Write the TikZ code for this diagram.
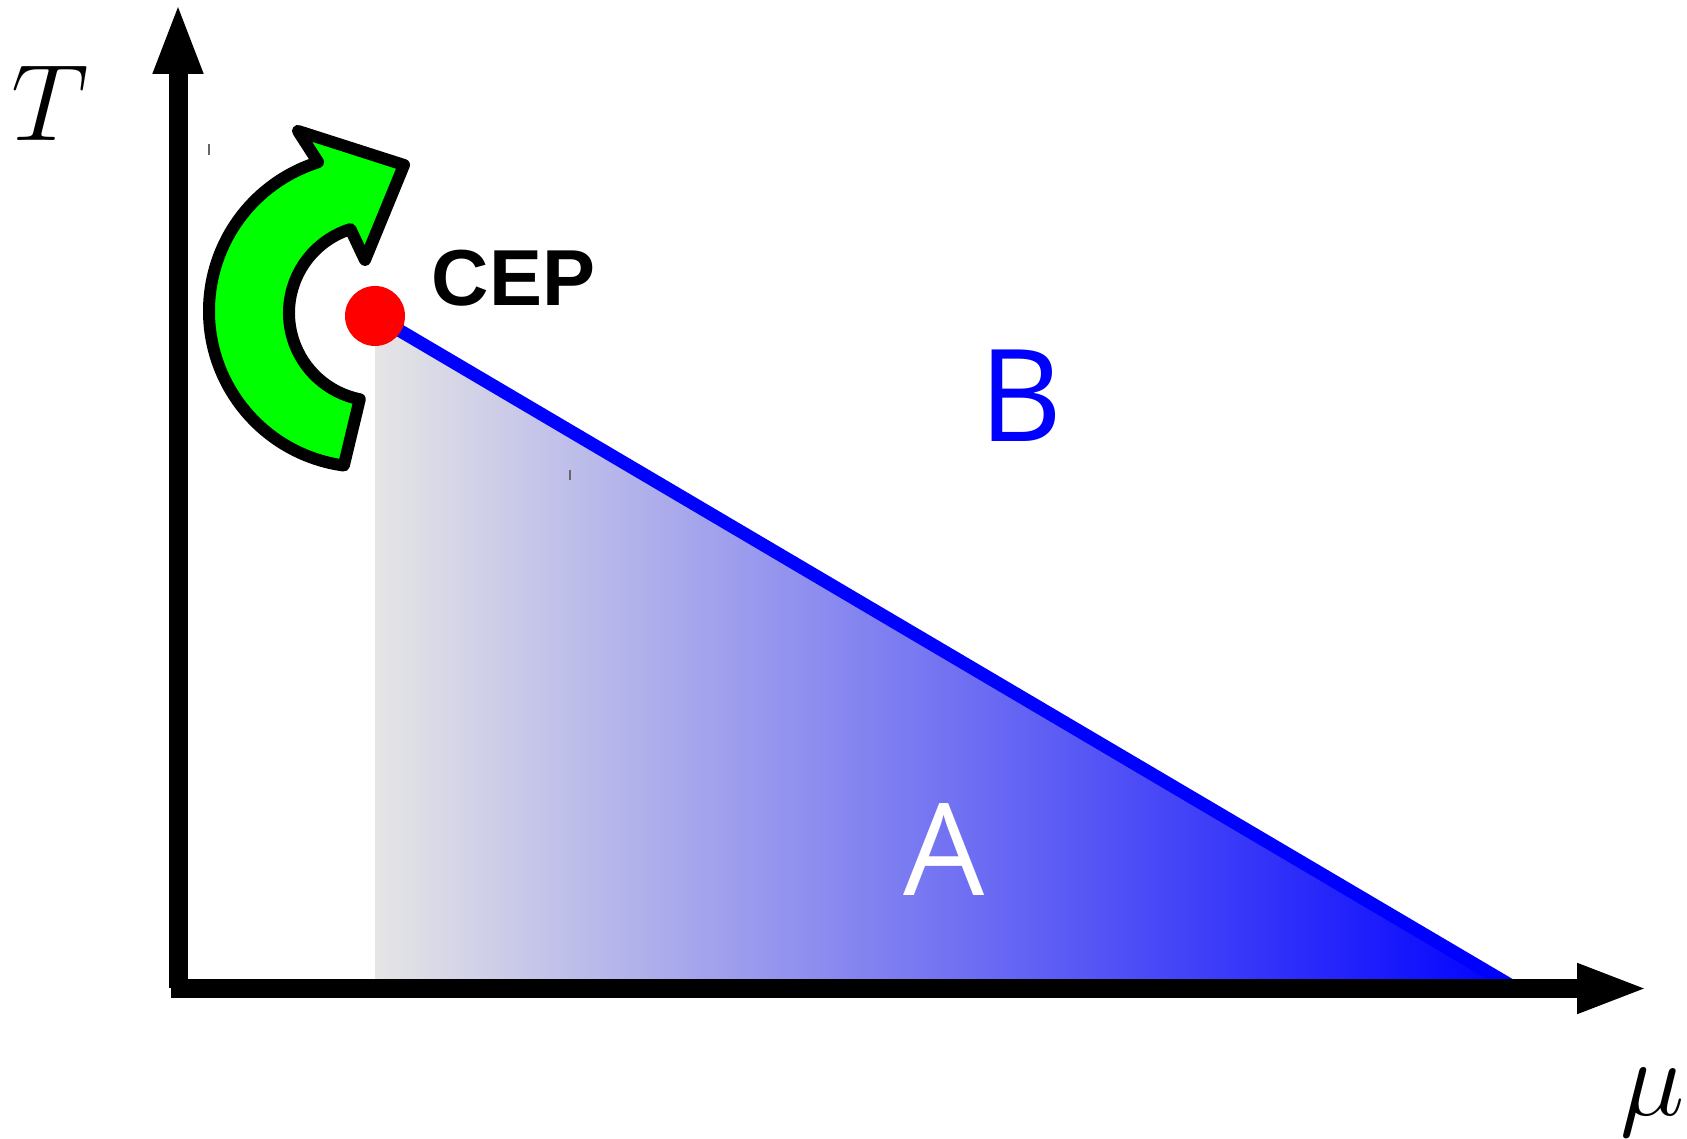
\RequirePackage{fix-cm}
\documentclass[tikz,border=0pt]{standalone}
\usepackage{fontspec}
\newfontfamily\regionfont{Open Sans}
\newfontfamily\cepfont{Liberation Sans}
\usetikzlibrary{arrows.meta, calc}
\tikzset{
  axis line/.style={
    -{Triangle[length=0.72cm, width=0.45cm]},
    line width=0.19cm,
    color=black
  },
  phase line/.style={
    line width=0.13cm,
    color=blue
  },
  cep dot/.style={
    circle,
    fill=red,
    inner sep=0pt,
    minimum size=0.6cm
  },
  turn arrow/.style={
    fill=green,
    draw=black,
    line width=0.12cm,
    line join=round
  },
  region label/.style={
    inner sep=0pt,
    font=\regionfont\fontsize{36.5}{40}\selectfont
  },
  axis label/.style={
    inner sep=0pt,
    font=\fontsize{31}{36}\selectfont
  },
  stray mark/.style={
    line width=0.015cm,
    color=black!60
  }
}

\begin{document}
\begin{tikzpicture}
    % 画布大小 (与原图比例一致)
    \useasboundingbox (0,0) rectangle (16.87,11.38);

    % 关键点
    \coordinate (cep) at (3.75,8.22);
    \coordinate (line end) at (15.15,1.50);
    \coordinate (v bottom) at (1.78,1.50);
    \coordinate (v top) at (1.78,11.36);
    \coordinate (h left) at (1.71,1.495);
    \coordinate (h right) at (16.49,1.495);

    % A 相区域 (渐变)
    \shade[left color=gray!20, right color=blue] (cep) -- (line end) -- (cep |- h left) -- cycle;

    % 相变线
    \draw[phase line] (cep) -- (line end);

    % 纵横轴
    \draw[axis line] (v bottom) -- (v top);
    \draw[axis line] (h left) -- (h right);
    \node[axis label] (t label) at (0.50,10.35) {$T$};
    \node[axis label, anchor=base] (mu label) at (16.53,0.23) {$\mu$};

    % 绿色弯箭头
    \coordinate (outer c) at (3.65,8.27);
    \coordinate (inner c) at (3.77,8.25);
    \filldraw[turn arrow]
      ($(outer c)+(107.5:1.56)$) -- (2.98,10.07) -- (4.04,9.73) -- (3.65,8.78)
      -- ($(inner c)+(107.6:0.88)$) arc[start angle=107.6, end angle=258.7, radius=0.88]
      -- ($(outer c)+(262.2:1.56)$) arc[start angle=262.2, end angle=107.5, radius=1.56]
      -- cycle;

    % 临界点
    \node[cep dot] (cep point) at (cep) {};
    \node[inner sep=0pt, font=\cepfont\bfseries\fontsize{22.6}{26}\selectfont] (cep label) at (5.135,8.595) {CEP};

    % 区域标签
    \node[region label, text=blue] (b label) at (10.21,7.42) {B};
    \node[region label, text=white] (a label) at (9.445,2.885) {A};

    % 小竖线
    \draw[stray mark] (2.09,9.94) -- (2.09,9.83);
    \draw[stray mark] (5.70,6.68) -- (5.70,6.58);

\end{tikzpicture}
\end{document}
